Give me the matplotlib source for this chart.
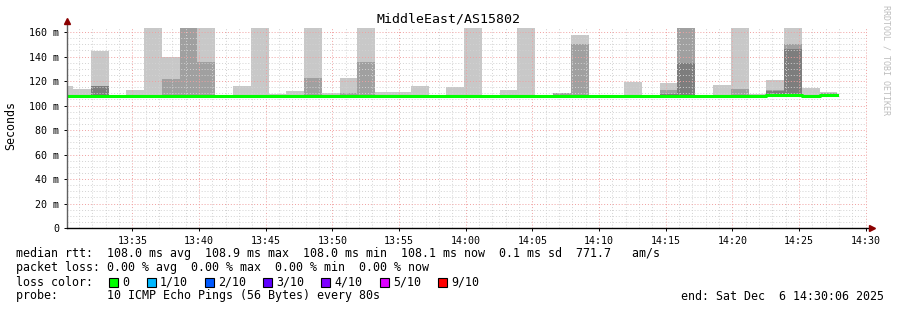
import matplotlib
matplotlib.use('Agg')
import matplotlib.pyplot as plt
from matplotlib.patches import Rectangle
import numpy as np

W, H = 897, 310
MONO = 'DejaVu Sans Mono'

# one smokeping step = 80 s, x is minutes after 13:30:00
step_min = 80 / 60
first_edge = 0.55 - step_min
x_start, x_end = 0.1, 60.1   # 13:30:06 .. 14:30:06

# ms, nan = no smoke layer; 175 means the ping goes off the top of the graph
nan = np.nan
median_rtt = [108.0] * 40 + [108.6, 108.9, 107.6, 108.4]
smoke_light = [115.9, 113.5, 144.5, nan, 112.6, 175, 139.6, nan, 175, nan,
               116.0, 175, 109.4, 111.8, 175, 110.2, 122.4, 175, 111.0, 111.0,
               116.0, nan, 115.0, 175, nan, 112.6, 175, nan, nan, 157.6,
               nan, nan, 119.2, nan, 118.4, nan, nan, 116.7, 175, 109.8,
               120.8, 175, 114.3, 111.0]
smoke_mid = [nan, nan, nan, nan, nan, nan, 121.6, 175, 135.5, nan,
             nan, nan, nan, nan, 122.4, nan, 110.5, 135.5, nan, nan,
             nan, nan, nan, nan, nan, nan, nan, nan, 110.2, 150.2,
             nan, nan, 109.0, nan, 112.6, 175, nan, nan, 113.5, nan,
             113.0, 150.2, nan, 110.0]
smoke_dark = [nan, nan, 116.0, nan, nan, nan, nan, nan, nan, nan,
              nan, nan, nan, nan, nan, nan, nan, nan, nan, nan,
              nan, nan, nan, nan, nan, nan, nan, nan, nan, nan,
              nan, nan, nan, nan, 109.2, 134.7, nan, nan, nan, nan,
              111.5, 146.1, nan, nan]

tick_minutes = [5, 10, 15, 20, 25, 30, 35, 40, 45, 50, 55, 60]
tick_labels = ['13:35', '13:40', '13:45', '13:50', '13:55', '14:00',
               '14:05', '14:10', '14:15', '14:20', '14:25', '14:30']
y_ticks = [0, 20, 40, 60, 80, 100, 120, 140, 160]

loss_labels = ['0', '1/10', '2/10', '3/10', '4/10', '5/10', '9/10']
loss_colors = ['#00ff00', '#00b8ff', '#0059ff', '#5e00ff', '#7e00ff', '#dd00ff', '#ff0000']

fig = plt.figure(figsize=(W / 100, H / 100), dpi=100)
fig.patch.set_facecolor('white')
ax = fig.add_axes([67 / W, 82 / H, 800 / W, 200 / H])

base = np.array(median_rtt)
left = first_edge + np.arange(len(base)) * step_min
for vals, col in [(smoke_light, '#c8c8c8'), (smoke_mid, '#a0a0a0'), (smoke_dark, '#7d7d7d')]:
    v = np.array(vals)
    ax.bar(left, v - base, bottom=base, width=step_min, align='edge',
           color=col, linewidth=0, zorder=1)

ax.step(np.append(left, left[-1] + step_min), np.append(base, base[-1]),
        where='post', color='#00ff00', lw=2.2, zorder=4)

ax.set_xticks(tick_minutes)
ax.set_xticklabels(tick_labels)
ax.set_xticks(np.arange(1, 61), minor=True)
ax.set_yticks(y_ticks)
ax.set_yticklabels(['0' if v == 0 else f'{v} m' for v in y_ticks])
ax.set_yticks(np.arange(0, 165, 5), minor=True)
ax.set_axisbelow(False)
ax.grid(which='minor', color='#d2d2d2', linestyle=(0, (1, 2)), linewidth=0.7, zorder=2)
ax.grid(which='major', color='#f0a0a0', linestyle=(0, (1, 2)), linewidth=0.7, zorder=2)
ax.tick_params(which='major', direction='out', length=2.5, width=0.7, pad=3,
               labelsize=7.2, colors='black')
ax.tick_params(which='minor', length=0)
for lab in ax.get_xticklabels() + ax.get_yticklabels():
    lab.set_family(MONO)

for s in ax.spines.values():
    s.set_visible(False)
ax.plot([0, 0], [0, 1.035], transform=ax.transAxes, color='#606060', lw=1, clip_on=False, zorder=5)
ax.plot([0, 1.005], [0, 0], transform=ax.transAxes, color='black', lw=1, clip_on=False, zorder=5)
ax.plot(0, 1.035, marker='^', color='#8b0000', ms=4, transform=ax.transAxes, clip_on=False, zorder=6)
ax.plot(1.006, 0, marker='>', color='#8b0000', ms=4, transform=ax.transAxes, clip_on=False, zorder=6)

ax.set_xlim(x_start, x_end)
ax.set_ylim(0, 163.3)

fig.text(448 / W, 1 - 19 / H, 'MiddleEast/AS15802', family=MONO, size=9.5,
         ha='center', va='center')
fig.text(11 / W, 1 - 126 / H, 'Seconds', family=MONO, size=8.4, rotation=90,
         ha='center', va='center')
fig.text(886 / W, 1 - 60 / H, 'RRDTOOL / TOBI OETIKER', family=MONO, size=6,
         rotation=270, color='#bdbdbd', ha='center', va='center')

lines = ['median rtt:  108.0 ms avg  108.9 ms max  108.0 ms min  108.1 ms now  0.1 ms sd  771.7   am/s',
         'packet loss: 0.00 % avg  0.00 % max  0.00 % min  0.00 % now',
         'loss color:',
         'probe:       10 ICMP Echo Pings (56 Bytes) every 80s']
for i, t in enumerate(lines):
    fig.text(16 / W, 1 - (254 + 14 * i) / H, t, family=MONO, size=8.4,
             ha='left', va='center')
fig.text(884 / W, 1 - 296 / H, 'end: Sat Dec  6 14:30:06 2025', family=MONO,
         size=8.4, ha='right', va='center')

box_x = [109, 147, 205, 263, 321, 380, 438]
for bx, lab, col in zip(box_x, loss_labels, loss_colors):
    fig.add_artist(Rectangle((bx / W, 1 - 287 / H), 9 / W, 9 / H,
                             transform=fig.transFigure, facecolor=col,
                             edgecolor='black', lw=0.8))
    fig.text((bx + 13) / W, 1 - 282 / H, lab, family=MONO, size=8.4,
             ha='left', va='center')

fig.savefig('out.png', dpi=100)
